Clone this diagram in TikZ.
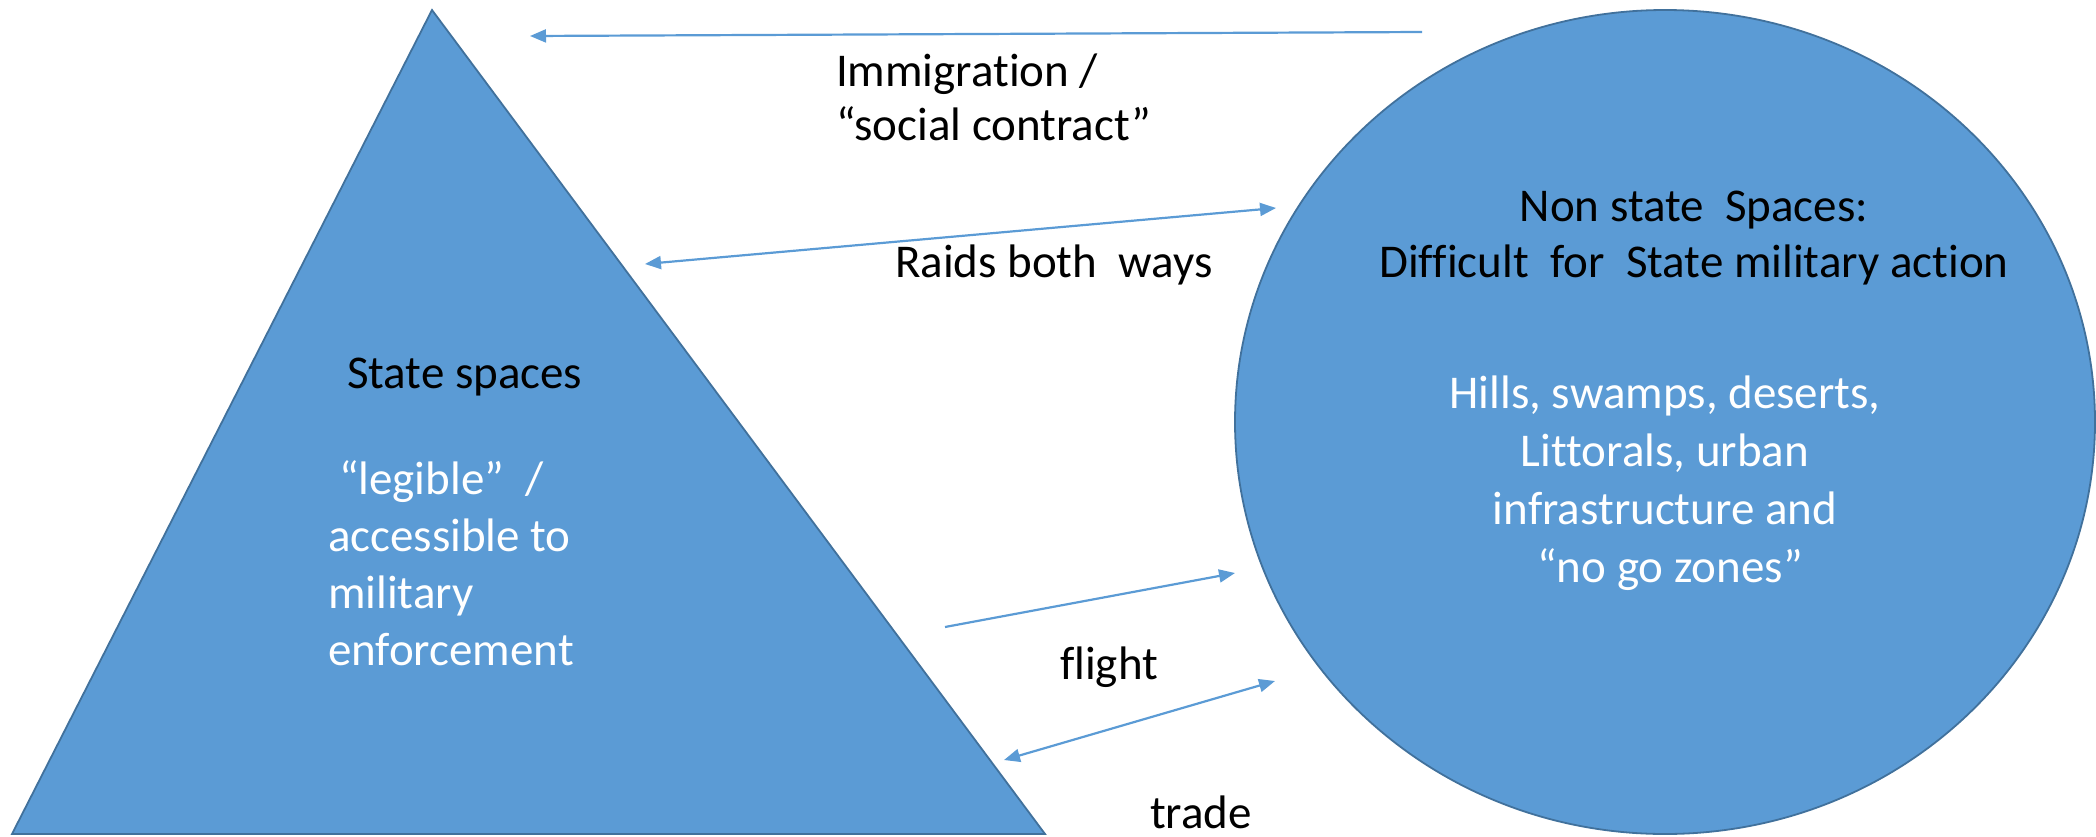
\documentclass[tikz,border=0pt]{standalone}
\usepackage{fontspec}
\setmainfont{Carlito}[Ligatures={NoCommon}]
\usetikzlibrary{arrows.meta,shapes.geometric}
\definecolor{fillblue}{HTML}{5B9BD5}
\definecolor{edgeblue}{HTML}{41719C}
\begin{document}
\begin{tikzpicture}[x=1pt,y=-1pt,
  shapestyle/.style={fill=fillblue, draw=edgeblue, line width=1.8pt},
  link/.style={draw=fillblue, line width=2.2pt},
  onetip/.style={-{Triangle[length=16pt,width=13pt]}},
  twotips/.style={{Triangle[length=16pt,width=13pt]}-{Triangle[length=16pt,width=13pt]}},
  lbl/.style={inner sep=0pt, outer sep=0pt, font=\fontsize{47}{56}\selectfont, text=black},
  wlbl/.style={lbl, text=white},
]
\useasboundingbox (0,0) rectangle (2096,836);

% State spaces triangle
\coordinate (apex) at (432,10);
\coordinate (bl) at (12,834);
\coordinate (br) at (1045,834);
\draw[shapestyle] (apex) -- (br) -- (bl) -- cycle;

% Non-state spaces ellipse
\node (nonstate) [shapestyle, ellipse, minimum width=860pt, minimum height=824pt, inner sep=0pt] at (1665,422) {};

% arrow end points
\coordinate (immS) at (1422,32);
\coordinate (immE) at (530,36);
\coordinate (raidL) at (645,264);
\coordinate (raidR) at (1276,208);
\coordinate (flS) at (945,627);
\coordinate (flE) at (1235,573);
\coordinate (trL) at (1004,760);
\coordinate (trR) at (1275,681);

\draw[link, onetip] (immS) -- (immE);
\draw[link, twotips] (raidL) -- (raidR);
\draw[link, onetip] (flS) -- (flE);
\draw[link, twotips] (trL) -- (trR);

% labels (multi-line nodes: base anchor = last line's baseline)
\node (immlbl) [lbl, align=left, anchor=base west, font=\fontsize{47}{54}\selectfont] at (836,140) {Immigration /\\“social contract”};
\node (raidlbl) [lbl, anchor=base west] at (895,277) {Raids both\ \ ways};
\node (fllbl) [lbl, anchor=base west] at (1060,679) {flight};
\node (trlbl) [lbl, anchor=base west] at (1150,828) {trade};

\node (statelbl) [lbl, anchor=base west] at (347,388) {State spaces};
\node (statedesc) [wlbl, align=left, anchor=base west, font=\fontsize{47}{57}\selectfont] at (328,665)
  {\hspace*{11pt}“legible”\ \ /\\accessible to\\military\\enforcement};

\node (nslbl) [lbl, align=center, anchor=base, font=\fontsize{47}{56}\selectfont] at (1694,277)
  {Non state\ \ Spaces:\\Difficult\ \ for\ \ State military action};
\node (nsdesc) [wlbl, align=center, anchor=base, font=\fontsize{47}{57.7}\selectfont] at (1665,582)
  {Hills, swamps, deserts,\\Littorals, urban\\infrastructure and\\\hspace*{10pt}“no go zones”};
\end{tikzpicture}
\end{document}
